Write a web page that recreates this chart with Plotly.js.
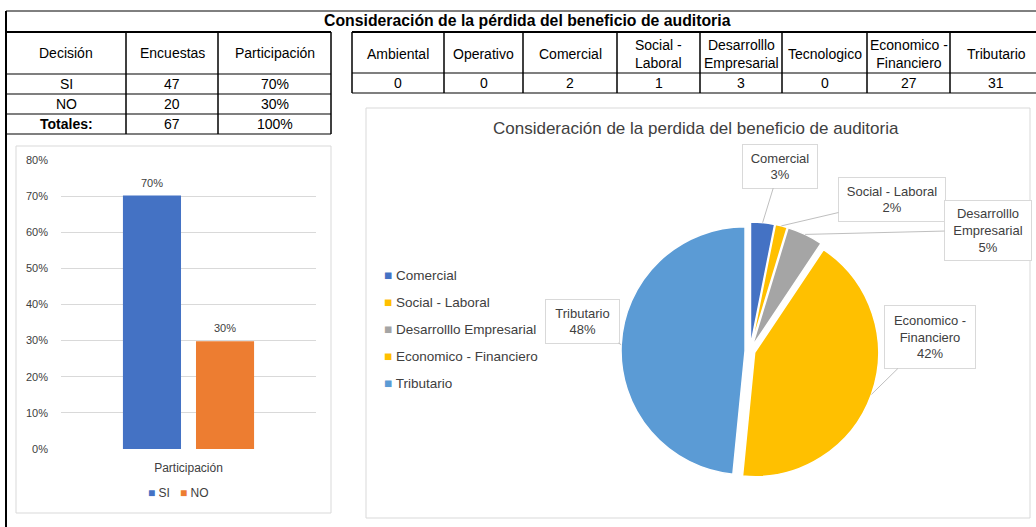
<!DOCTYPE html>
<html>
<head>
<meta charset="utf-8">
<script src="https://cdn.plot.ly/plotly-3.0.1.min.js"></script>
<style>
  html, body { margin: 0; padding: 0; background: #fff; }
  #chart { width: 1036px; height: 527px; }
</style>
</head>
<body>
<div id="chart"></div>
<script>
// ---------------- DATA ----------------
const tituloTabla = 'Consideración de la pérdida del beneficio de auditoria';
const tituloTorta = 'Consideración de la perdida del beneficio de auditoria';
const encabezadosDecision = ['Decisión', 'Encuestas', 'Participación'];
const decisiones = ['SI', 'NO'];
const encuestas = [47, 20];
const etiquetaTotales = 'Totales:';
const categoriaBarra = ['Participación'];

const categorias = ['Ambiental', 'Operativo', 'Comercial', 'Social - Laboral',
  'Desarrolllo Empresarial', 'Tecnologico', 'Economico - Financiero', 'Tributario'];
const encabezadosCategoria = ['Ambiental', 'Operativo', 'Comercial', 'Social -<br>Laboral',
  'Desarrolllo<br>Empresarial', 'Tecnologico', 'Economico -<br>Financiero', 'Tributario'];
const respuestas = [0, 0, 2, 1, 3, 0, 27, 31];
const etiquetasCaja = ['', '', 'Comercial', 'Social - Laboral', 'Desarrolllo<br>Empresarial',
  '', 'Economico -<br>Financiero', 'Tributario'];

// ---------------- STYLE / LAYOUT CONSTANTS ----------------
const W = 1036, H = 527;
const px = x => x / W;
const py = y => 1 - y / H;
const FONT = 'Liberation Sans, Arial, sans-serif';
const barColors = ['#4472C4', '#ED7D31'];
const sliceColors = {
  'Ambiental': '#4472C4', 'Operativo': '#ED7D31', 'Comercial': '#4472C4',
  'Social - Laboral': '#FFC000', 'Desarrolllo Empresarial': '#A5A5A5',
  'Tecnologico': '#70AD47', 'Economico - Financiero': '#FFC000', 'Tributario': '#5B9BD5'
};
// label box placement for pie labels (pixel centers / sizes)
const labelBoxes = {
  'Comercial': {x: 780, y: 166, w: 74, h: 43},
  'Social - Laboral': {x: 892, y: 200, w: 106, h: 43},
  'Desarrolllo Empresarial': {x: 988, y: 230, w: 86, h: 59},
  'Economico - Financiero': {x: 930, y: 337, w: 90, h: 62},
  'Tributario': {x: 582, y: 321, w: 73, h: 43}
};
const BARGAP = 0.427, BARGROUPGAP = 0.205;

// ---------------- DERIVED ----------------
const totalEnc = encuestas.reduce((a, b) => a + b, 0);
const partic = encuestas.map(v => v / totalEnc);
const pct = v => Math.round(v * 100) + '%';

const shapes = [];
const annotations = [];
const line = (x0, y0, x1, y1, w, c) => shapes.push({
  type: 'line', xref: 'paper', yref: 'paper',
  x0: px(x0), y0: py(y0), x1: px(x1), y1: py(y1),
  line: {color: c || '#000', width: w || 1}
});
const rect = (x0, y0, x1, y1, c) => shapes.push({
  type: 'rect', xref: 'paper', yref: 'paper', layer: 'below',
  x0: px(x0), y0: py(y0), x1: px(x1), y1: py(y1),
  line: {color: c, width: 1}, fillcolor: 'rgba(0,0,0,0)'
});
const txt = (x, y, text, size, opts) => annotations.push(Object.assign({
  xref: 'paper', yref: 'paper', x: px(x), y: py(y), text: text,
  showarrow: false, xanchor: 'center', yanchor: 'middle',
  font: {family: FONT, size: size || 14, color: '#000'}
}, opts || {}));
const sq = c => '<span style="color:' + c + '">■</span>';

// chart panels
rect(16, 146, 331, 513, '#D9D9D9');
rect(366, 108, 1030, 518, '#D9D9D9');

// ----- top title row -----
line(6, 11, 1036, 11, 1);
line(6, 11, 6, 527, 2);
line(6, 32, 331, 32, 2);
line(352, 32, 1036, 32, 2);
txt(527, 21, '<b>' + tituloTabla + '</b>', 15.8);

// ----- left table -----
const xL = [6, 126, 218, 331];
const yL = [32, 74, 94, 114, 134];
xL.forEach((x, i) => { if (i > 0) line(x, 32, x, 134, 1.5); });
yL.forEach((y, i) => { if (i > 0) line(6, y, 331, y, 1.2); });
const cxL = i => (xL[i] + xL[i + 1]) / 2;
const cyL = i => (yL[i] + yL[i + 1]) / 2;
encabezadosDecision.forEach((h, i) => txt(cxL(i), cyL(0), h, 14));
decisiones.forEach((d, r) => {
  txt(cxL(0), cyL(r + 1), d, 14);
  txt(cxL(1), cyL(r + 1), String(encuestas[r]), 14);
  txt(cxL(2), cyL(r + 1), pct(partic[r]), 14);
});
txt(cxL(0), cyL(3), '<b>' + etiquetaTotales + '</b>', 14);
txt(cxL(1), cyL(3), String(totalEnc), 14);
txt(cxL(2), cyL(3), pct(partic.reduce((a, b) => a + b, 0)), 14);

// ----- right table -----
const xR = [352, 444, 523, 617, 700, 782, 867, 950, 1042];
const yR = [32, 73, 93];
xR.forEach(x => line(x, 32, x, 93, 1.5));
line(352, 73, 1036, 73, 1.2);
line(352, 93, 1036, 93, 1.2);
encabezadosCategoria.forEach((h, i) => {
  const cx = (xR[i] + xR[i + 1]) / 2;
  txt(cx, (yR[0] + yR[1]) / 2 + 1, h, 14);
  txt(cx, (yR[1] + yR[2]) / 2, String(respuestas[i]), 14);
});

// ----- bar chart labels + legend -----
const nB = decisiones.length;
const slot = (1 - BARGAP) / nB;
decisiones.forEach((d, i) => {
  annotations.push({
    xref: 'x', yref: 'y', x: -(1 - BARGAP) / 2 + slot * (i + 0.5), y: partic[i],
    text: pct(partic[i]), showarrow: false, xanchor: 'center', yanchor: 'bottom', yshift: 5,
    font: {family: FONT, size: 11, color: '#404040'}
  });
});
txt(178, 493, decisiones.map((d, i) => sq(barColors[i]) + ' ' + d).join('   '), 12,
  {font: {family: FONT, size: 12, color: '#404040'}});

// ----- pie -----
txt(696, 128, tituloTorta, 17, {font: {family: FONT, size: 17, color: '#404040'}});

const pieCats = [], pieVals = [], pieCols = [];
categorias.forEach((c, i) => {
  if (respuestas[i] > 0) {
    pieCats.push(c);
    pieVals.push(respuestas[i]);
    pieCols.push(sliceColors[c]);
  }
});
// pie legend
pieCats.forEach((c, i) => {
  txt(382, 275 + 27 * i, sq(pieCols[i]) + ' ' + c, 13.5,
    {xanchor: 'left', font: {family: FONT, size: 13.5, color: '#404040'}});
});

const pieTotal = pieVals.reduce((a, b) => a + b, 0);
const cxP = 750, cyP = 351, rP = 124, pull = 0.04;
const sP = 2 * rP * (1 + pull);

let cum = 0;
pieCats.forEach((c, i) => {
  const f = pieVals[i] / pieTotal;
  const th = 2 * Math.PI * (cum + f / 2);
  cum += f;
  const R = rP * (1 + pull);
  const ex = cxP + R * Math.sin(th), ey = cyP - R * Math.cos(th);
  const b = labelBoxes[c];
  const ci = categorias.indexOf(c);
  annotations.push({
    xref: 'paper', yref: 'paper', x: px(ex), y: py(ey),
    ax: b.x - ex, ay: b.y - ey, axref: 'pixel', ayref: 'pixel',
    showarrow: true, arrowhead: 0, arrowwidth: 1, arrowcolor: '#BFBFBF', standoff: 0,
    text: etiquetasCaja[ci] + '<br>' + pct(f),
    width: b.w, height: b.h, align: 'center', valign: 'middle',
    bordercolor: '#D9D9D9', borderwidth: 1, borderpad: 0, bgcolor: '#fff',
    font: {family: FONT, size: 13, color: '#404040'}
  });
});

const traces = decisiones.map((d, i) => ({
  type: 'bar', name: d, x: categoriaBarra, y: [partic[i]],
  marker: {color: barColors[i]}, xaxis: 'x', yaxis: 'y', hoverinfo: 'skip', showlegend: false
}));
traces.push({
  type: 'pie', labels: pieCats, values: pieVals, sort: false,
  direction: 'clockwise', rotation: 0, pull: pull,
  marker: {colors: pieCols, line: {color: '#fff', width: 1.5}},
  textinfo: 'none', hoverinfo: 'skip', showlegend: false,
  domain: {x: [px(cxP - sP / 2), px(cxP + sP / 2)], y: [py(cyP + sP / 2), py(cyP - sP / 2)]}
});

const layout = {
  width: W, height: H,
  margin: {l: 0, r: 0, t: 0, b: 0},
  paper_bgcolor: '#fff', plot_bgcolor: 'rgba(0,0,0,0)',
  font: {family: FONT, color: '#404040'},
  barmode: 'group', bargap: BARGAP, bargroupgap: BARGROUPGAP,
  xaxis: {
    domain: [px(61), px(316)], anchor: 'y', type: 'category',
    showgrid: false, zeroline: false, showline: false, ticks: '',
    ticklabelstandoff: 10,
    tickfont: {family: FONT, size: 12, color: '#404040'}, fixedrange: true
  },
  yaxis: {
    domain: [py(449), py(160)], anchor: 'x', range: [0, 0.8], dtick: 0.1,
    tickformat: '.0%', gridcolor: '#D9D9D9', gridwidth: 1, zeroline: false,
    showline: false, ticks: '', ticklabelstandoff: 12,
    tickfont: {family: FONT, size: 11, color: '#404040'}, fixedrange: true
  },
  showlegend: false,
  shapes: shapes,
  annotations: annotations
};

Plotly.newPlot('chart', traces, layout, {displayModeBar: false, staticPlot: true});
</script>
</body>
</html>
